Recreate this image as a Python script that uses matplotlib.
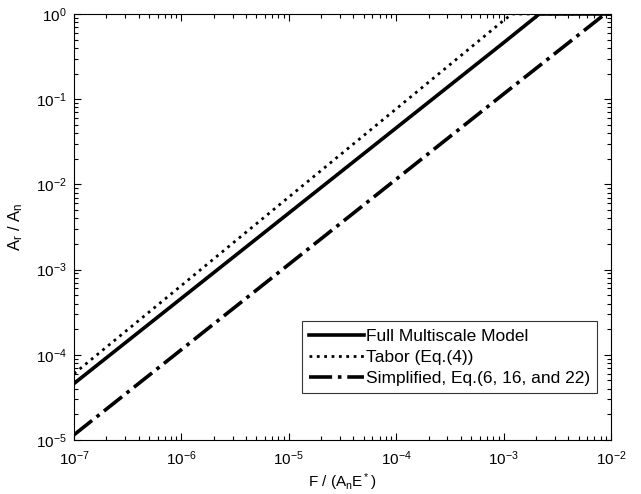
import matplotlib
matplotlib.use("Agg")
import matplotlib.pyplot as plt
from matplotlib.ticker import LogLocator, NullFormatter

plt.rcParams["font.family"] = ["Liberation Sans", "DejaVu Sans"]
plt.rcParams["mathtext.fontset"] = "custom"
plt.rcParams["mathtext.rm"] = "Liberation Sans"
plt.rcParams["mathtext.it"] = "Liberation Sans"

F_full = [1e-7, 1e-6, 1e-5, 1e-4, 1e-3, 2.15e-3, 1e-2]
A_full = [4.6e-5, 4.6e-4, 4.6e-3, 4.6e-2, 0.46, 1.0, 1.0]

F_tabor = [1e-7, 1e-6, 1e-5, 1e-4, 1e-3, 1.2e-3, 1e-2]
A_tabor = [6.0e-5, 6.5e-4, 7.1e-3, 7.7e-2, 0.84, 1.0, 1.0]

F_simp = [1e-7, 1e-6, 1e-5, 1e-4, 1e-3, 8.8e-3, 1e-2]
A_simp = [1.15e-5, 1.15e-4, 1.15e-3, 1.15e-2, 0.115, 1.0, 1.0]

fig = plt.figure(figsize=(6.41, 4.94), dpi=100)
ax = fig.add_axes([0.1154, 0.1093, 0.8378, 0.8624])

ax.loglog(F_full, A_full, "-", color="k", lw=2.6, label="Full Multiscale Model")
ax.loglog(F_tabor, A_tabor, ":", color="k", lw=2.0, label="Tabor (Eq.(4))")
ax.loglog(F_simp, A_simp, "-.", color="k", lw=2.6,
          label="Simplified, Eq.(6, 16, and 22)")

ax.set_xlim(1e-7, 1e-2)
ax.set_ylim(1e-5, 1e0)
ax.xaxis.set_major_locator(LogLocator(base=10, numticks=10))
ax.yaxis.set_major_locator(LogLocator(base=10, numticks=10))
ax.xaxis.set_minor_locator(LogLocator(base=10, subs=range(2, 10), numticks=20))
ax.yaxis.set_minor_locator(LogLocator(base=10, subs=range(2, 10), numticks=20))
ax.xaxis.set_minor_formatter(NullFormatter())
ax.yaxis.set_minor_formatter(NullFormatter())
ax.tick_params(which="both", direction="in", top=True, right=True,
               labelsize=11, width=0.8)
ax.tick_params(which="major", length=5)
ax.tick_params(which="minor", length=3)
ax.tick_params(axis="x", which="major", pad=7)
ax.tick_params(axis="y", which="major", pad=5)

ax.set_xlabel(r"F / (A$_n$E$^*$)", fontsize=11, labelpad=2)
ax.set_ylabel(r"A$_r$ / A$_n$", fontsize=12, labelpad=8)

leg = ax.legend(loc="lower right", bbox_to_anchor=(0.99, 0.09), fontsize=12.5,
                frameon=True, fancybox=False, edgecolor="k", handlelength=3.2,
                handletextpad=0.1, borderpad=0.4, labelspacing=0.35)
leg.get_frame().set_linewidth(0.8)

fig.savefig("out.png", dpi=100)
